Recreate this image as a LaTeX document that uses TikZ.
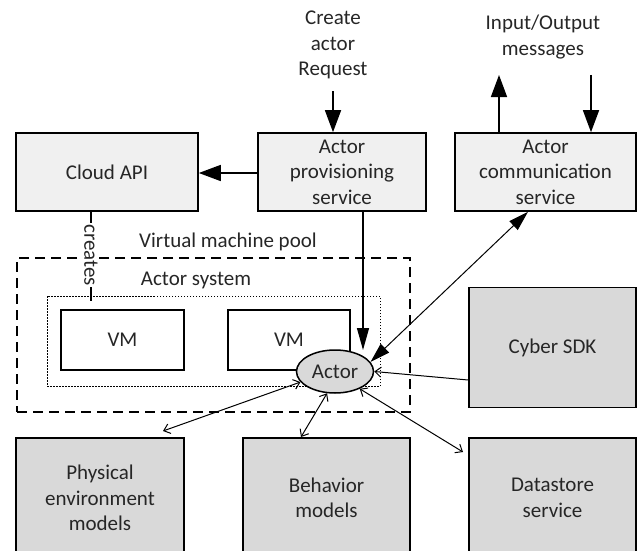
\documentclass[tikz,border=0pt]{standalone}
\usepackage{fontspec}
\setmainfont{Carlito}
\usetikzlibrary{arrows.meta,shapes.geometric}

\definecolor{lightfill}{HTML}{F0F0F0}
\definecolor{darkfill}{HTML}{D9D9D9}
\definecolor{ink}{HTML}{262626}

\begin{document}
\begin{tikzpicture}[x=1pt,y=-1pt,
  every node/.style={font=\fontsize{21}{25.5}\selectfont, text=ink, align=center},
  topbox/.style={draw, line width=1.6pt, fill=lightfill, inner sep=0pt},
  darkbox/.style={draw, line width=1.6pt, fill=darkfill, inner sep=0pt},
  vmbox/.style={draw, line width=1.6pt, fill=white, inner sep=0pt},
  bigarrow/.style={line width=1.5pt, -{Triangle[length=22pt,width=16pt]}},
  slimarrow/.style={line width=1.3pt, -{Triangle[length=22pt,width=12pt]}},
  linkboth/.style={line width=1pt, {Straight Barb[length=6pt,width=10pt]}-{Straight Barb[length=6pt,width=10pt]}},
  linkone/.style={line width=1pt, -{Straight Barb[length=6pt,width=10pt]}}
]
\useasboundingbox (0,0) rectangle (637,551);

% service boxes on top
\node[topbox, minimum width=182pt, minimum height=78pt] (cloud) at (107,172) {Cloud API};
\node[topbox, minimum width=168pt, minimum height=78pt] (prov) at (342,172) {Actor\\provisioning\\service};
\node[topbox, minimum width=181pt, minimum height=78pt] (comm) at (545.5,172) {Actor\\communication\\service};

% incoming / outgoing labels
\node (req) at (333,45) {Create\\actor\\Request};
\node (io) at (543,37) {Input/Output\\messages};

% virtual machine pool and actor system
\node[draw, line width=1.5pt, dash pattern=on 10pt off 6pt, minimum width=393pt, minimum height=154pt, inner sep=0pt] (pool) at (213.5,335) {};
\node (poollbl) at (228,242) {Virtual machine pool};
\node[draw, line width=0.9pt, dash pattern=on 1.5pt off 1.5pt, minimum width=333pt, minimum height=90pt, inner sep=0pt] (asys) at (213.5,341) {};
\node (asyslbl) at (196,280) {Actor system};
\node[vmbox, minimum width=123pt, minimum height=60pt] (vm1) at (122.5,340) {VM};
\node[vmbox, minimum width=122pt, minimum height=60pt] (vm2) at (289,340) {VM};
\node[ellipse, draw, line width=1.5pt, fill=darkfill, minimum width=77pt, minimum height=43pt, inner sep=0pt] (actor) at (335,371.5) {Actor};

% surrounding components
\node[darkbox, minimum width=167pt, minimum height=120pt] (sdk) at (552.5,347.5) {Cyber SDK};
\node[darkbox, minimum width=168pt, minimum height=120pt] (phys) at (100,498) {Physical\\environment\\models};
\node[darkbox, minimum width=167pt, minimum height=120pt] (behav) at (326.5,498) {Behavior\\models};
\node[darkbox, minimum width=167pt, minimum height=120pt] (store) at (552.5,498) {Datastore\\service};

% request and message arrows
\coordinate (reqtail) at (333,91);
\draw[bigarrow] (reqtail) -- (reqtail |- prov.north);
\coordinate (outtip) at (499,75);
\draw[bigarrow] (outtip |- comm.north) -- (outtip);
\coordinate (intail) at (591,75);
\draw[bigarrow] (intail) -- (intail |- comm.north);
\coordinate (provrow) at (0,173);
\draw[bigarrow] (prov.west |- provrow) -- (cloud.east |- provrow);

% cloud API creates the VMs
\coordinate (crend) at (91,301);
\draw[line width=1.4pt] (cloud.south -| crend) -- (crend);
\node[rotate=-90, fill=white, inner sep=1pt] (creates) at (91,255) {creates};

% provisioning and communication with the actor
\coordinate (provtip) at (363,350);
\draw[slimarrow] (prov.south -| provtip) -- (provtip);
\coordinate (commx) at (528,0);
\draw[line width=1pt, {Triangle[length=20pt,width=12pt]}-{Triangle[length=20pt,width=12pt]}] (comm.south -| commx) -- (actor.15);
\coordinate (sdkrow) at (0,380);
\draw[linkone] (sdk.west |- sdkrow) -- (actor.east);

% links to models and datastore
\coordinate (physend) at (163,431);
\draw[linkboth] (actor.197) -- (physend);
\coordinate (behavend) at (301,437);
\draw[linkboth] (actor.250) -- (behavend);
\coordinate (storeend) at (463,452);
\draw[linkboth] (actor.325) -- (storeend);
\end{tikzpicture}
\end{document}
